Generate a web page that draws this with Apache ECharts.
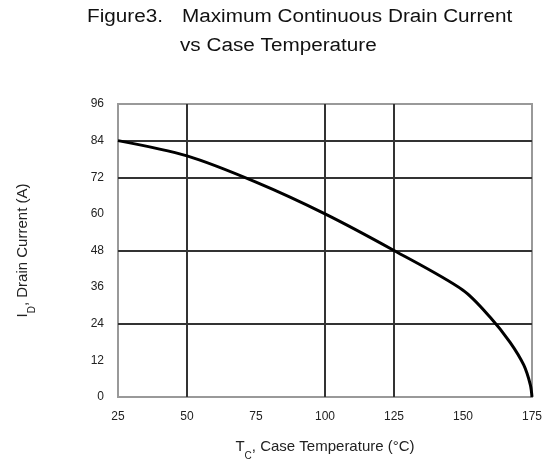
<!DOCTYPE html>
<html>
<head>
<meta charset="utf-8">
<script src="https://cdn.jsdelivr.net/npm/echarts@6/dist/echarts.min.js"></script>
<style>
  html, body { margin: 0; padding: 0; background: #fff; }
  #chart { width: 554px; height: 466px; }
</style>
</head>
<body>
<div id="chart"></div>
<script>
// case temperature (°C) and max drain current (A)
var temps = [25, 50, 75, 100, 125, 150, 160, 167, 172, 174.4, 175]
var current = [84, 79, 70.4, 60, 48, 35, 26, 18, 10.5, 4, 0]

var xTicks = [25, 50, 75, 100, 125, 150, 175]
var yTicks = [0, 12, 24, 36, 48, 60, 72, 84, 96]
// only some grid lines are drawn in the original
var xGridOn = [false, true, false, true, true, false, false]
var yGridOn = [false, false, true, false, true, false, true, true, false]

var gridDark = '#333'
var none = 'rgba(0,0,0,0)'
var font = 'Liberation Sans, Arial, sans-serif'

var chart = echarts.init(document.getElementById('chart'))
chart.setOption({
  animation: false,
  backgroundColor: '#fff',
  graphic: [
    { type: 'text', x: 87, y: 8, scaleX: 1.15, style: { text: 'Figure3.', font: '18px ' + font, fill: '#111' } },
    { type: 'text', x: 182, y: 8, scaleX: 1.15, style: { text: 'Maximum Continuous Drain Current', font: '18px ' + font, fill: '#111' } },
    { type: 'text', x: 180, y: 37, scaleX: 1.15, style: { text: 'vs Case Temperature', font: '18px ' + font, fill: '#111' } }
  ],
  grid: {
    left: 118,
    right: 22,
    top: 104,
    bottom: 68,
    show: true,
    borderColor: '#999',
    borderWidth: 2
  },
  xAxis: {
    type: 'value',
    min: xTicks[0],
    max: xTicks[xTicks.length - 1],
    interval: 25,
    axisLine: { show: false },
    axisTick: { show: false },
    axisLabel: { color: '#222', fontSize: 12, fontFamily: font, margin: 14 },
    splitLine: {
      show: true,
      lineStyle: { width: 2, color: xGridOn.map(function (v) { return v ? gridDark : none }) }
    },
    name: '{n|T}{s|C}{n|, Case Temperature (°C)}',
    nameLocation: 'middle',
    nameGap: 42,
    nameTextStyle: {
      rich: {
        n: { fontSize: 15, fontFamily: font, color: '#222' },
        s: { fontSize: 10, fontFamily: font, color: '#222', verticalAlign: 'bottom', padding: [0, 0, -7, 0] }
      }
    }
  },
  yAxis: {
    type: 'value',
    min: yTicks[0],
    max: yTicks[yTicks.length - 1],
    interval: 12,
    axisLine: { show: false },
    axisTick: { show: false },
    axisLabel: { color: '#222', fontSize: 12, fontFamily: font, margin: 14 },
    splitLine: {
      show: true,
      lineStyle: { width: 2, color: yGridOn.map(function (v) { return v ? gridDark : none }) }
    },
    name: '{n|I}{s|D}{n|, Drain Current (A)}',
    nameLocation: 'middle',
    nameGap: 88,
    nameTextStyle: {
      rich: {
        n: { fontSize: 15, fontFamily: font, color: '#222' },
        s: { fontSize: 10, fontFamily: font, color: '#222', verticalAlign: 'bottom', padding: [0, 0, -7, 0] }
      }
    }
  },
  series: [{
    type: 'line',
    data: temps.map(function (t, i) { return [t, current[i]] }),
    smooth: 0.3,
    showSymbol: false,
    lineStyle: { color: '#000', width: 3 }
  }]
})
</script>
</body>
</html>
